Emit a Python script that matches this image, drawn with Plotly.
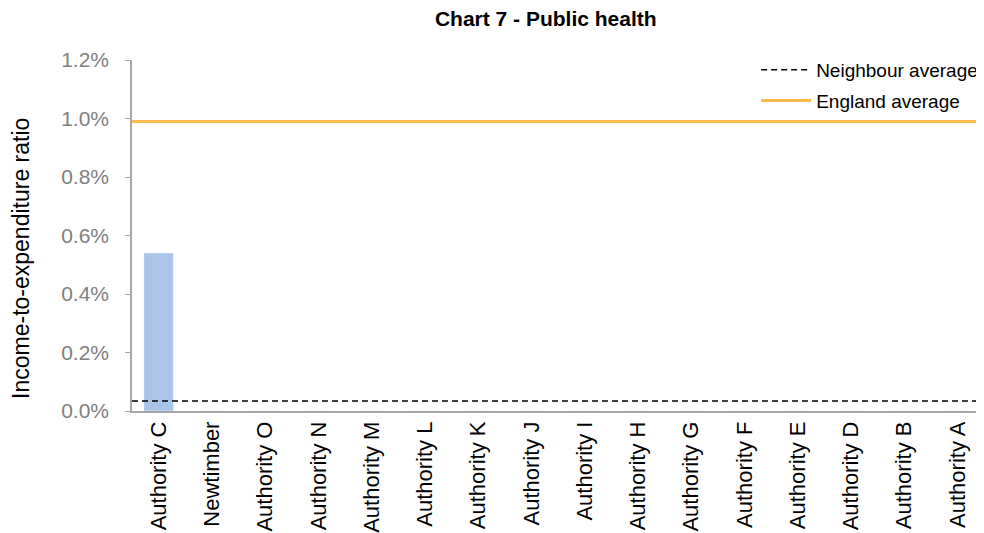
import plotly.graph_objects as go

categories = ["Authority C", "Newtimber", "Authority O", "Authority N", "Authority M",
              "Authority L", "Authority K", "Authority J", "Authority I", "Authority H",
              "Authority G", "Authority F", "Authority E", "Authority D", "Authority B",
              "Authority A"]
values = [0.0054] + [0.0] * 15
neighbour_avg = 0.00034
england_avg = 0.0099
y_ticks = [0, 0.002, 0.004, 0.006, 0.008, 0.010, 0.012]
y_title = "Income-to-expenditure ratio"

FONT = "Liberation Sans, Arial, sans-serif"
fig = go.Figure()
fig.add_trace(go.Bar(x=categories, y=values, marker_color="#A9C6EA", width=0.55,
                     showlegend=False, hoverinfo="skip"))
fig.add_trace(go.Scatter(x=[0, 1], y=[neighbour_avg, neighbour_avg], xaxis="x2",
                         mode="lines", name="Neighbour average", legendgroup="n",
                         line=dict(color="#000000", width=1.5, dash="6px,4px")))
fig.add_trace(go.Scatter(x=[0, 1], y=[england_avg, england_avg], xaxis="x2",
                         mode="lines", name="England average", legendgroup="e",
                         line=dict(color="#FFB951", width=3)))

fig.add_annotation(text=y_title, textangle=-90, xref="paper", yref="paper",
                   x=-0.1303, y=0.436, xanchor="center", yanchor="middle",
                   showarrow=False, font=dict(family=FONT, size=23, color="#000000"))

fig.update_layout(
    width=976, height=525,
    margin=dict(l=124, r=0, t=52, b=122, autoexpand=False),
    paper_bgcolor="white", plot_bgcolor="white",
    title=dict(text="<b>Chart 7 - Public health</b>", x=0.551, xanchor="center",
               y=0.979, yanchor="middle", font=dict(family=FONT, size=21, color="#000000")),
    font=dict(family=FONT),
    bargap=0.45,
    xaxis=dict(type="category", tickangle=-90, showgrid=False, showline=True,
               linecolor="#A6A6A6", linewidth=1.5, ticks="", range=[-0.5, 15.5],
               automargin=False,
               tickfont=dict(family=FONT, size=22, color="#000000")),
    xaxis2=dict(overlaying="x", range=[0, 1], visible=False),
    yaxis=dict(range=[0, 0.012], tickvals=y_ticks, tickformat=".1%", showgrid=False,
               zeroline=False, showline=True, linecolor="#A6A6A6", linewidth=1.5,
               ticks="outside", ticklen=5, tickcolor="#A6A6A6", automargin=False,
               ticklabelstandoff=12,
               tickfont=dict(family=FONT, size=21, color="#808080")),
    legend=dict(x=0.999, xanchor="right", y=1.026, yanchor="top",
                traceorder="grouped",
                bgcolor="rgba(0,0,0,0)", font=dict(family=FONT, size=19, color="#000000"),
                itemwidth=50, tracegroupgap=3),
)
fig.write_html("out.html")
